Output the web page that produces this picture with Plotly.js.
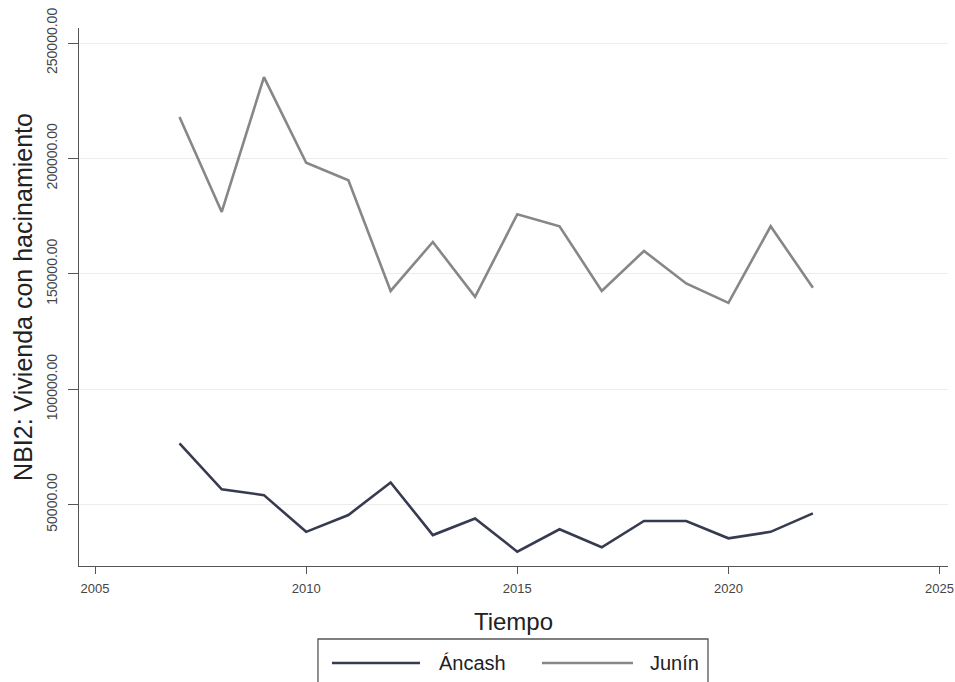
<!DOCTYPE html>
<html>
<head>
<meta charset="utf-8">
<script src="https://cdn.plot.ly/plotly-3.0.1.min.js"></script>
<style>body{margin:0;padding:0;background:#fff;overflow:hidden;} #chart{width:955px;height:682px;}</style>
</head>
<body>
<div id="chart"></div>
<script>
const years = [2007,2008,2009,2010,2011,2012,2013,2014,2015,2016,2017,2018,2019,2020,2021,2022];
const ancash = [76500,56600,54100,38200,45500,59600,36800,44000,29600,39300,31500,42900,42900,35400,38200,46200];
const junin = [217900,176800,235200,198100,190500,142600,163800,140000,175800,170600,142600,159900,145800,137400,170600,144000];
const seriesNames = ["Áncash", "Junín"];
const seriesColors = ["#363b52", "#878787"];
const yTicks = [50000,100000,150000,200000,250000];
const xTicks = [2005,2010,2015,2020,2025];

const font = "Liberation Sans, Arial, sans-serif";
const traces = [
  {x: years, y: ancash, name: seriesNames[0], type: "scatter", mode: "lines",
   line: {color: seriesColors[0], width: 2.6}},
  {x: years, y: junin, name: seriesNames[1], type: "scatter", mode: "lines",
   line: {color: seriesColors[1], width: 2.6}}
];

// custom legend (Stata-style long keys), in paper coordinates
const legY = -0.1803;
const keyX = [[0.2911, 0.3924], [0.5328, 0.6375]];
const textX = [0.4120, 0.6548];
const shapes = [
  {type: "rect", xref: "paper", yref: "paper", x0: 0.2750, x1: 0.7238, y0: -0.2305, y1: -0.1357,
   line: {color: "#555", width: 1.3}, fillcolor: "rgba(0,0,0,0)"}
];
const annotations = [];
seriesNames.forEach((n, i) => {
  shapes.push({type: "line", xref: "paper", yref: "paper", x0: keyX[i][0], x1: keyX[i][1], y0: legY, y1: legY,
    line: {color: seriesColors[i], width: 2.6}});
  annotations.push({xref: "paper", yref: "paper", x: textX[i], y: legY, xanchor: "left", yanchor: "middle",
    text: n, showarrow: false, font: {size: 20, color: "#222", family: font}});
});

const layout = {
  width: 955, height: 682,
  margin: {l: 79, r: 7, t: 28, b: 116},
  paper_bgcolor: "#fff", plot_bgcolor: "#fff",
  font: {family: font, color: "#333"},
  showlegend: false,
  shapes: shapes,
  annotations: annotations,
  xaxis: {range: [2004.62, 2025.2], tickvals: xTicks, ticktext: xTicks.map(String),
    showgrid: false, zeroline: false, showline: true, linecolor: "#555", linewidth: 1.3,
    ticks: "outside", ticklen: 7, tickcolor: "#555", tickfont: {size: 13, color: "#444"},
    ticklabelstandoff: 3,
    title: {text: "Tiempo", font: {size: 24, color: "#222"}, standoff: 18}},
  yaxis: {range: [23400, 256500], tickvals: yTicks, ticktext: yTicks.map(v => v.toFixed(2)),
    tickangle: -90, showgrid: true, gridcolor: "#ececec", gridwidth: 1, zeroline: false,
    showline: true, linecolor: "#555", linewidth: 1.3,
    ticks: "outside", ticklen: 10, tickcolor: "#555", tickfont: {size: 14, color: "#444"},
    ticklabelstandoff: 5,
    title: {text: "NBI2: Vivienda con hacinamiento", font: {size: 25, color: "#222"}, standoff: 4}}
};
Plotly.newPlot("chart", traces, layout, {staticPlot: true, displayModeBar: false});
</script>
</body>
</html>
